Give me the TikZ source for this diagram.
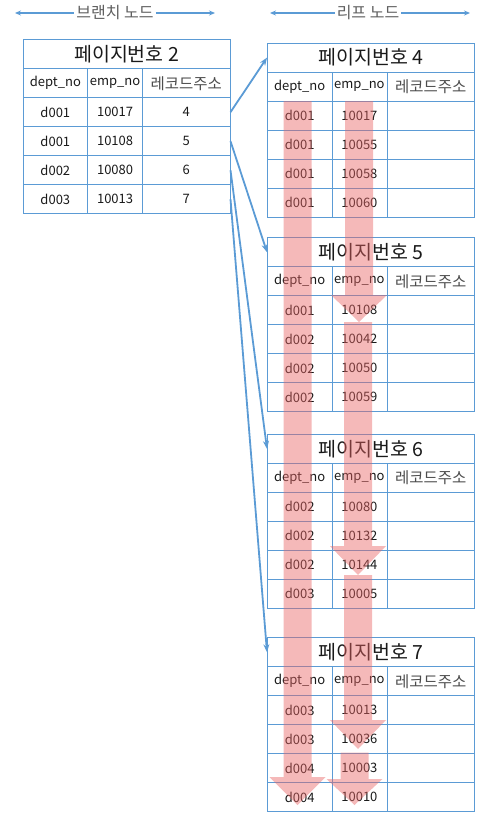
\documentclass[tikz,border=0pt]{standalone}
\usepackage{fontspec}
\setmainfont{Noto Sans CJK KR}
\usetikzlibrary{arrows.meta}
\definecolor{tblue}{RGB}{91,155,213}
\definecolor{pinkarr}{RGB}{232,100,100}
\definecolor{txt}{RGB}{25,25,25}
\definecolor{hdrtxt}{RGB}{95,95,95}
\newcommand{\bodyfnt}{\fontsize{13bp}{15bp}\selectfont}
\newcommand{\korfnt}{\fontsize{15.5bp}{17bp}\selectfont}
\newcommand{\titlefnt}{\fontsize{19.5bp}{22bp}\selectfont}
\newcommand{\hdrfnt}{\fontsize{16bp}{18bp}\selectfont}
\tikzset{
  cell/.style={draw=tblue, line width=0.8bp, minimum height=29bp, inner sep=0pt,
    anchor=north west, text=txt, font=\bodyfnt},
  ttl/.style={font=\titlefnt},
  kor/.style={font=\korfnt, text=hdrtxt!80!black},
  conn/.style={draw=tblue, line width=1.8bp, -{Stealth[length=8bp,width=6bp]}},
  hdrline/.style={draw=tblue, line width=1.2bp},
  hdrlabel/.style={fill=white, inner sep=2bp, text=hdrtxt, font=\hdrfnt},
  pinkfill/.style={fill=pinkarr, fill opacity=0.45}
}
\newcommand{\pgtbl}[5]{%
  \node[cell, ttl, minimum width=207bp] (#1-t) at (#2,#3) {#4};
  \node[cell, minimum width=64.5bp] (#1-h1) at (#2,#3+29) {dept\_no};
  \node[cell, minimum width=55bp] (#1-h2) at (#2+64.5,#3+29) {emp\_no};
  \node[cell, kor, minimum width=87.5bp] (#1-h3) at (#2+119.5,#3+29) {레코드주소};
  \foreach \d/\e/\r [count=\i] in {#5} {
    \node[cell, minimum width=64.5bp] (#1-r\i-1) at (#2,#3+29+29*\i) {\d};
    \node[cell, minimum width=55bp] (#1-r\i-2) at (#2+64.5,#3+29+29*\i) {\e};
    \node[cell, minimum width=87.5bp] (#1-r\i-3) at (#2+119.5,#3+29+29*\i) {\r};
  }%
}
\newcommand{\parr}[4]{%
  \fill[pinkfill] (#1-14,#2) -- (#1+14,#2) -- (#1+14,#3) -- (#1+28,#3) -- (#1,#4)
    -- (#1-28,#3) -- (#1-14,#3) -- cycle;%
}
\begin{document}
\begin{tikzpicture}[x=1bp,y=-1bp]
\useasboundingbox (0,0) rectangle (491,822);
% header arrows
\coordinate (bl) at (15,13);
\coordinate (br) at (215,13);
\node[hdrlabel] (bh) at (115,13) {브랜치 노드};
\draw[hdrline, {Stealth[length=6bp,width=5bp]}-] (bl) -- (bh.west);
\draw[hdrline, -{Stealth[length=6bp,width=5bp]}] (bh.east) -- (br);
\coordinate (ll) at (270,13);
\coordinate (lr) at (470,13);
\node[hdrlabel] (lh) at (368,13) {리프 노드};
\draw[hdrline, {Stealth[length=6bp,width=5bp]}-] (ll) -- (lh.west);
\draw[hdrline, -{Stealth[length=6bp,width=5bp]}] (lh.east) -- (lr);
% tables
\pgtbl{b}{22.7}{39.3}{페이지번호 2}{d001/10017/4, d001/10108/5, d002/10080/6, d003/10013/7}
\pgtbl{p4}{267}{42.7}{페이지번호 4}{d001/10017/{}, d001/10055/{}, d001/10058/{}, d001/10060/{}}
\pgtbl{p5}{267}{237.3}{페이지번호 5}{d001/10108/{}, d002/10042/{}, d002/10050/{}, d002/10059/{}}
\pgtbl{p6}{267}{434}{페이지번호 6}{d002/10080/{}, d002/10132/{}, d002/10144/{}, d003/10005/{}}
\pgtbl{p7}{267}{637.3}{페이지번호 7}{d003/10013/{}, d003/10036/{}, d004/10003/{}, d004/10010/{}}
% connectors
\draw[conn] (b-r1-3.east) -- (p4-t.west);
\draw[conn] (b-r2-3.east) -- (p5-t.west);
\draw[conn] (b-r3-3.east) -- (p6-t.west);
\draw[conn] (b-r4-3.east) -- (p7-t.west);
% pink scan arrows
\parr{297.5}{101}{777}{805}
\parr{359}{101}{295}{322}
\parr{358}{322}{546}{575}
\parr{358}{575}{720}{749}
\parr{354.5}{752.5}{779}{805}
\end{tikzpicture}
\end{document}
